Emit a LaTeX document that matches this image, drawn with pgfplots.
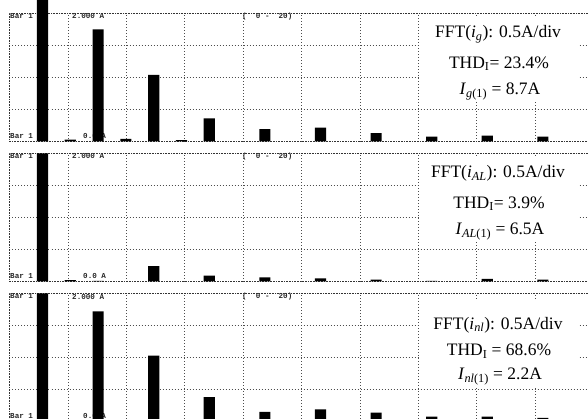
\documentclass[border=0pt]{standalone}
\usepackage{fontspec}
\setmainfont{Liberation Serif}
\newfontfamily\scopefont{Liberation Mono}
\usepackage{pgfplots}
\pgfplotsset{compat=1.18}
\usepackage{pgfplotstable}

% harmonic number, amplitude (A)
\pgfplotstableread{
h v
1 2.25
2 0.03
3 1.75
4 0.04
5 1.04
6 0.02
7 0.36
9 0.195
11 0.215
13 0.13
15 0.075
17 0.09
19 0.075
}\tabg
\pgfplotstableread{
h v
1 2.0
2 0.02
3 0.01
5 0.24
7 0.09
9 0.066
11 0.05
13 0.03
15 0.01
17 0.04
19 0.03
}\tabal
\pgfplotstableread{
h v
1 2.0
3 1.72
5 1.03
7 0.38
9 0.15
11 0.19
13 0.14
15 0.075
17 0.075
19 0.055
}\tabnl

\pgfplotsset{scopepanel/.style={
  anchor=south west,
  width=584pt, height=128pt, scale only axis,
  xmin=-0.187, xmax=20.82, ymin=0, ymax=2,
  ybar, bar width=0.4,
  xtick={1.914,4.015,6.115,8.216,10.316,12.417,14.518,16.619,18.719},
  ytick={0.5,1,1.5},
  xticklabel={\relax}, yticklabel={\relax},
  major tick length=0pt,
  grid=major,
  grid style={black!70, line width=0.6pt, dash pattern=on 0.6pt off 2.4pt},
  axis line style={black!80, line width=0.6pt, dash pattern=on 0.8pt off 0.8pt},
  clip=false,
}}

\begin{document}
\begin{tikzpicture}
\useasboundingbox (0,0) rectangle (588pt,419pt);
\clip (0,0) rectangle (588pt,419pt);

% scope screen labels
\foreach \k in {0,1,2}{
  \begin{scope}[yshift=-140*\k pt, font=\scopefont\fontsize{7.6}{8}\selectfont\bfseries, text=black!85]
    \node[anchor=west, inner sep=0] at (10pt,402.5pt) {Bar 1};
    \node[anchor=west, inner sep=0] at (72pt,402.5pt) {2.000 A};
    \node[anchor=west, inner sep=0] at (242pt,402.5pt) {(~~0~-~~20)};
    \node[anchor=west, inner sep=0] at (10pt,283pt) {Bar 1};
    \node[anchor=west, inner sep=0] at (83pt,283pt) {0.0 A};
  \end{scope}
}

\begin{axis}[scopepanel, at={(9.5pt,277.5pt)}]
\addplot[fill=black, draw=none] table[x=h, y=v] {\tabg};
\end{axis}
\begin{axis}[scopepanel, at={(9.5pt,137.5pt)}]
\addplot[fill=black, draw=none] table[x=h, y=v] {\tabal};
\end{axis}
\begin{axis}[scopepanel, at={(9.5pt,-2.5pt)}]
\addplot[fill=black, draw=none] table[x=h, y=v] {\tabnl};
\end{axis}

% annotation boxes
\fill[white] (420pt,319pt) rectangle (578pt,401pt);
\fill[white] (420pt,179pt) rectangle (578pt,261pt);
\fill[white] (420pt,33pt) rectangle (578pt,119pt);

\begin{scope}[every node/.style={anchor=base, inner sep=0, font=\fontsize{17.5}{20}\selectfont}]
\node at (498pt,381.3pt) {FFT(\textit{i}\textsubscript{\textit{g}}): 0.5A/div};
\node at (499pt,350.7pt) {THD\textsubscript{I}= 23.4\%};
\node at (500pt,324pt) {\textit{I}\textsubscript{\textit{g}(1)} = 8.7A};

\node at (498pt,241.3pt) {FFT(\textit{i}\textsubscript{\textit{AL}}): 0.5A/div};
\node at (499pt,210.7pt) {THD\textsubscript{I}= 3.9\%};
\node at (500pt,184pt) {\textit{I}\textsubscript{\textit{AL}(1)} = 6.5A};

\node at (498pt,89.7pt) {FFT(\textit{i}\textsubscript{\textit{nl}}): 0.5A/div};
\node at (499pt,63pt) {THD\textsubscript{I} = 68.6\%};
\node at (500pt,39pt) {\textit{I}\textsubscript{\textit{nl}(1)} = 2.2A};
\end{scope}
\end{tikzpicture}
\end{document}
